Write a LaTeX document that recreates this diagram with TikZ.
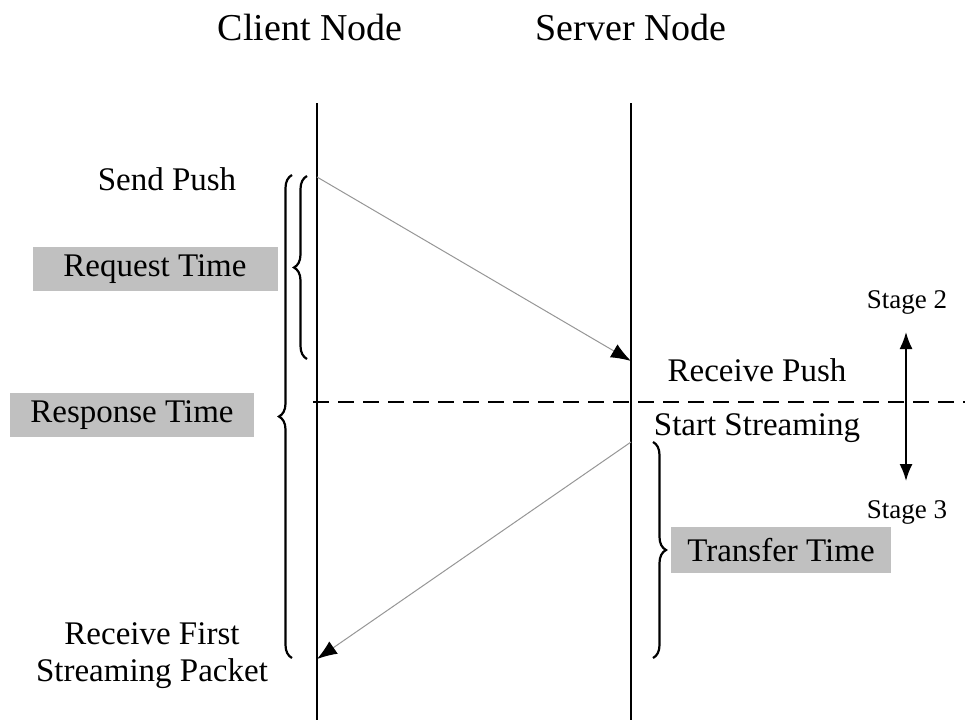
\documentclass[tikz,border=0pt]{standalone}
\usepackage{fontspec}
\setmainfont{Liberation Serif}
\usetikzlibrary{arrows.meta,decorations.pathreplacing}
\begin{document}
\begin{tikzpicture}[x=1pt,y=-1pt,
  title/.style={font=\fontsize{38}{40}\selectfont, inner sep=0pt},
  lbl/.style={font=\fontsize{33}{38}\selectfont, inner sep=0pt, align=center},
  stagelbl/.style={font=\fontsize{27}{30}\selectfont, inner sep=0pt},
  graybox/.style={fill={rgb,255:red,192;green,192;blue,192}, minimum height=44pt, inner sep=0pt},
  lifeline/.style={line width=2.2pt},
  msg/.style={draw={rgb,255:red,150;green,150;blue,150}, line width=1pt,
              -{Latex[length=20pt,width=15pt,fill=black,color=black]}},
  curly/.style={line width=2.2pt, decorate, decoration={brace, amplitude=13pt, aspect=0.5}}
]
\useasboundingbox (0,0) rectangle (965,720);

% headings
\node[title] (client) at (310,28) {Client Node};
\node[title] (server) at (631,28) {Server Node};

% lifelines
\coordinate (ctop) at (317,103);
\coordinate (cbot) at (317,720);
\coordinate (stop) at (631,103);
\coordinate (sbot) at (631,720);
\draw[lifeline] (ctop) -- (cbot);
\draw[lifeline] (stop) -- (sbot);

% stage separator
\coordinate (dl) at (313,402);
\coordinate (dr) at (965,402);
\draw[line width=1.6pt, dash pattern=on 16pt off 9pt] (dl) -- (dr);

% messages
\coordinate (push) at (317,177);
\coordinate (recv) at (631,361);
\coordinate (stream) at (631,442);
\coordinate (first) at (317,659);
\draw[msg] (push) -- (recv);
\draw[msg] (stream) -- (first);

% event labels
\node[lbl] (sendpush) at (167,179) {Send Push};
\node[lbl] (recvpush) at (757,370) {Receive Push};
\node[lbl] (startstr) at (757,428) {Start Streaming};
\node[lbl, align=center] (recvfirst) at (152,656) {Receive First\\[-1pt]Streaming Packet};

% interval braces
\coordinate (rqb) at (307,359);
\coordinate (rqt) at (307,176);
\draw[curly] (rqb) -- (rqt);
\coordinate (rsb) at (292,658);
\coordinate (rst) at (292,175);
\draw[curly] (rsb) -- (rst);
\coordinate (trt) at (653,442);
\coordinate (trb) at (653,658);
\draw[curly] (trt) -- (trb);

% interval labels
\node[graybox, minimum width=245pt] (reqtime) at (155,269) {\fontsize{33}{38}\selectfont Request Time};
\node[graybox, minimum width=244pt] (resptime) at (132,415) {\fontsize{33}{38}\selectfont Response Time};
\node[graybox, minimum width=220pt, minimum height=46pt] (trtime) at (781,550) {\fontsize{33}{38}\selectfont Transfer Time};

% stages
\node[stagelbl] (stage2) at (907,302) {Stage 2};
\node[stagelbl] (stage3) at (907,512) {Stage 3};
\coordinate (sgtop) at (906,332);
\coordinate (sgbot) at (906,481);
\draw[line width=1.8pt, {Latex[length=17pt,width=13pt]}-{Latex[length=17pt,width=13pt]}]
  (sgtop) -- (sgbot);
\end{tikzpicture}
\end{document}
